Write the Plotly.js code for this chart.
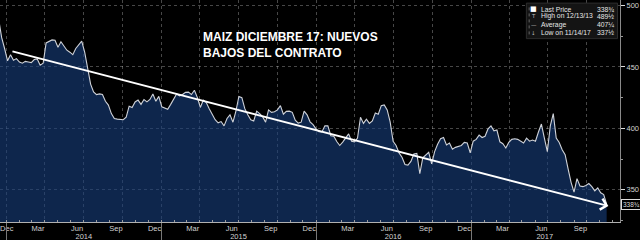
<!DOCTYPE html>
<html><head><meta charset="utf-8">
<script src="https://cdn.plot.ly/plotly-3.0.1.min.js"></script>
<style>html,body{margin:0;padding:0;background:#000;}#chart{width:640px;height:240px;}</style>
</head><body><div id="chart"></div>
<script>
// Weekly closes of the Dec-2017 corn contract (cents/bu)
const weeks2014 = ["2013-12-13","2013-12-20","2013-12-27",
"2014-01-03","2014-01-10","2014-01-17","2014-01-24","2014-01-31","2014-02-07","2014-02-14","2014-02-21","2014-02-28","2014-03-07","2014-03-14","2014-03-21","2014-03-28","2014-04-04","2014-04-11","2014-04-18","2014-04-25","2014-05-02","2014-05-09","2014-05-16","2014-05-23","2014-05-30","2014-06-06","2014-06-13","2014-06-20","2014-06-27","2014-07-04","2014-07-11","2014-07-18","2014-07-25","2014-08-01","2014-08-08","2014-08-15","2014-08-22","2014-08-29","2014-09-05","2014-09-12","2014-09-19","2014-09-26","2014-10-03","2014-10-10","2014-10-17","2014-10-24","2014-10-31","2014-11-07","2014-11-14","2014-11-21","2014-11-28","2014-12-05","2014-12-12","2014-12-19","2014-12-26"];
const price2014 = [489,474,465,
455,460,455.5,456.8,454, 453,454.5,454,453.5, 456,456.5,451.4,453, 469.5,470.5,472,471.7, 466,470.5,467,463.6,462, 460,465,468.5,471, 462,449,436,429.7, 427.5,428,427.5,422,418.9, 412,408,407.5,407.5, 407,409,418,417,421.5, 423,419.5,423.5,421.5, 423.5,428,422,426];

const weeks2015 = ["2015-01-02","2015-01-09","2015-01-16","2015-01-23","2015-01-30","2015-02-06","2015-02-13","2015-02-20","2015-02-27","2015-03-06","2015-03-13","2015-03-20","2015-03-27","2015-04-03","2015-04-10","2015-04-17","2015-04-24","2015-05-01","2015-05-08","2015-05-15","2015-05-22","2015-05-29","2015-06-05","2015-06-12","2015-06-19","2015-06-26","2015-07-03","2015-07-10","2015-07-17","2015-07-24","2015-07-31","2015-08-07","2015-08-14","2015-08-21","2015-08-28","2015-09-04","2015-09-11","2015-09-18","2015-09-25","2015-10-02","2015-10-09","2015-10-16","2015-10-23","2015-10-30","2015-11-06","2015-11-13","2015-11-20","2015-11-27","2015-12-04","2015-12-11","2015-12-18","2015-12-25"];
const price2015 = [417.5,416.5,415.5,419.5,423.5, 428,426.5,427.5,429.3, 429.5,427.5,431,425, 417,423,421,416, 411.5,407,404.5,405.5,402, 408,411,405,414, 426,425,416,411,407, 406,414,412,409.5, 405,415,413,413.5, 415,418.5,411.5,413.8,414, 413,406.6,404.3,405, 414,411,405.3,403];

const weeks2016 = ["2016-01-01","2016-01-08","2016-01-15","2016-01-22","2016-01-29","2016-02-05","2016-02-12","2016-02-19","2016-02-26","2016-03-04","2016-03-11","2016-03-18","2016-03-25","2016-04-01","2016-04-08","2016-04-15","2016-04-22","2016-04-29","2016-05-06","2016-05-13","2016-05-20","2016-05-27","2016-06-03","2016-06-10","2016-06-17","2016-06-24","2016-07-01","2016-07-08","2016-07-15","2016-07-22","2016-07-29","2016-08-05","2016-08-12","2016-08-19","2016-08-26","2016-09-02","2016-09-09","2016-09-16","2016-09-23","2016-09-30","2016-10-07","2016-10-14","2016-10-21","2016-10-28","2016-11-04","2016-11-11","2016-11-18","2016-11-25","2016-12-02","2016-12-09","2016-12-16","2016-12-23","2016-12-30"];
const price2016 = [399.5,397.3,397,402,402, 394,393.5,389.2,386, 388.8,392.5,395.5,389.5, 389,392,409,404,407.5, 404,406,412.5,411.5, 418.5,419,415,405.3, 389.5,386,380,376.5,370.5, 370,373,379,379.5, 363,376,378,380.5,371, 381,387,391.5,392.5, 386.5,388,383,384.5, 385,386,388.5,388,380];

const weeks2017 = ["2017-01-06","2017-01-13","2017-01-20","2017-01-27","2017-02-03","2017-02-10","2017-02-17","2017-02-24","2017-03-03","2017-03-10","2017-03-17","2017-03-24","2017-03-31","2017-04-07","2017-04-14","2017-04-21","2017-04-28","2017-05-05","2017-05-12","2017-05-19","2017-05-26","2017-06-02","2017-06-09","2017-06-16","2017-06-23","2017-06-30","2017-07-07","2017-07-14","2017-07-21","2017-07-28","2017-08-04","2017-08-11","2017-08-18","2017-08-25","2017-09-01","2017-09-08","2017-09-15","2017-09-22","2017-09-29","2017-10-06","2017-10-13","2017-10-20","2017-10-27","2017-11-03","2017-11-10","2017-11-17"];
const price2017 = [389.5,391,394.5,392.5, 393.5,399.5,402,398, 398.6,389,387.5,384,388.5, 391,391.5,391,389.5, 388,392,389.5,390.5, 389.5,397,403.5,392,381, 402,412,392,388.5, 382.5,378.5,367,356, 348,359,353,352.5,353.5, 355,352.5,349,351.5, 347.5,346,338];

// Axis ticks / labels
const gridDates = ["2014-01-01","2014-04-01","2014-07-01","2014-10-01","2015-01-01","2015-04-01","2015-07-01","2015-10-01","2016-01-01","2016-04-01","2016-07-01","2016-10-01","2017-01-01","2017-04-01","2017-07-01","2017-10-01"];
const monthLabelDates = ["2014-01-01","2014-03-16","2014-06-16","2014-09-16","2014-12-16","2015-03-16","2015-06-16","2015-09-16","2015-12-16","2016-03-16","2016-06-16","2016-09-16","2016-12-16","2017-03-16","2017-06-16","2017-09-16"];
const monthLabels = ["Dec","Mar","Jun","Sep","Dec","Mar","Jun","Sep","Dec","Mar","Jun","Sep","Dec","Mar","Jun","Sep"];
const yearStarts = ["2014-01-01","2015-01-01","2016-01-01","2017-01-01"];
const yearLabelDates = ["2014-07-02","2015-07-02","2016-07-01","2017-06-24"];
const yearLabels = ["2014","2015","2016","2017"];
const yTicks = [350,400,450,500];

// Trend arrow (start, end)
const trendDates = ["2014-01-11","2017-11-21"];
const trendValues = [463, 336.7];

// Legend box content
const legendIcons = ["■","T","—","↓"];
const legendLabels = ["Last Price","High on 12/13/13","Average","Low on 11/14/17"];
const legendValues = ["338¾","489½","407¼","337½"];
const lastPriceText = "338¾";

const weeks = weeks2014.concat(weeks2015, weeks2016, weeks2017);
const prices = price2014.concat(price2015, price2016, price2017);

const xRange = ["2013-12-16 04:00","2017-12-18 12:00"];
const labelFont = {family: "Liberation Sans, Arial, sans-serif", size: 7.5, color: "#d2d2d2"};
const legendFont = {family: "Liberation Sans, Arial, sans-serif", size: 6.8, color: "#e6e6e6"};

const trace = {
  x: weeks, y: prices, type: "scatter", mode: "lines",
  line: {color: "#cfd2d8", width: 1.1},
  fill: "tozeroy", fillcolor: "rgba(22,62,122,0.62)",
  hoverinfo: "skip"
};

const legendRowY = [0.958, 0.9257, 0.8896, 0.8536];
const annotations = [];
annotations.push({
  xref: "paper", yref: "paper", x: 0.3245, y: 0.7995, xanchor: "left", yanchor: "middle", align: "left",
  showarrow: false, text: "<b>MAIZ DICIEMBRE 17: NUEVOS<br>BAJOS DEL CONTRATO</b>",
  font: {family: "Liberation Sans, Arial, sans-serif", size: 12, color: "#ffffff"}
});
annotations.push({
  xref: "x", yref: "y", axref: "x", ayref: "y",
  x: trendDates[1], y: trendValues[1], ax: trendDates[0], ay: trendValues[0],
  showarrow: true, arrowhead: 4, arrowsize: 1.1, arrowwidth: 2, arrowcolor: "#ffffff", standoff: 0, text: ""
});
for (let i = 0; i < legendLabels.length; i++) {
  annotations.push({xref: "paper", yref: "paper", x: 0.8605, y: legendRowY[i], xanchor: "center", yanchor: "middle",
    showarrow: false, text: legendIcons[i], borderpad: 0,
    font: {family: "DejaVu Sans, sans-serif", size: i === 0 ? 7 : 5.5, color: i === 0 ? "#ffffff" : "#bbbbbb"}});
  annotations.push({xref: "paper", yref: "paper", x: 0.8705, y: legendRowY[i], xanchor: "left", yanchor: "middle",
    showarrow: false, text: legendLabels[i], borderpad: 0, font: legendFont});
  annotations.push({xref: "paper", yref: "paper", x: 0.9915, y: legendRowY[i], xanchor: "right", yanchor: "middle",
    showarrow: false, text: legendValues[i], borderpad: 0, font: legendFont});
}
annotations.push({
  xref: "paper", yref: "y", x: 1.002, y: prices[prices.length - 1], xanchor: "left", yanchor: "middle",
  showarrow: false, text: lastPriceText, bgcolor: "#000", bordercolor: "#dddddd", borderwidth: 1, borderpad: 1,
  font: {family: "Liberation Sans, Arial, sans-serif", size: 6.5, color: "#dddddd"}
});

const layout = {
  width: 640, height: 240,
  margin: {l: 0, r: 20, t: 0, b: 18, pad: 0},
  paper_bgcolor: "#000", plot_bgcolor: "#000",
  showlegend: false,
  xaxis: {
    type: "date", range: xRange, tickmode: "array", tickvals: gridDates,
    showticklabels: false, ticks: "",
    showgrid: true, gridcolor: "rgba(255,255,255,0.28)", griddash: "dot", gridwidth: 1,
    showline: true, linecolor: "#b0b0b0", linewidth: 1, zeroline: false,
    minor: {dtick: "M1", tick0: "2014-01-01", ticks: "inside", ticklen: 2, tickcolor: "#9a9a9a", showgrid: false}
  },
  xaxis2: {
    type: "date", range: xRange, overlaying: "x", anchor: "y", side: "bottom",
    tickmode: "array", tickvals: monthLabelDates, ticktext: monthLabels,
    ticks: "", showgrid: false, showline: false, zeroline: false, tickfont: labelFont
  },
  xaxis3: {
    type: "date", range: xRange, overlaying: "x", anchor: "y", side: "bottom",
    tickmode: "array", tickvals: yearStarts, showticklabels: false,
    ticks: "outside", ticklen: 18, tickwidth: 1, tickcolor: "#777777",
    showgrid: false, showline: false, zeroline: false
  },
  xaxis4: {
    type: "date", range: xRange, overlaying: "x", anchor: "y", side: "bottom",
    tickmode: "array", tickvals: yearLabelDates, ticktext: yearLabels,
    ticks: "", ticklabelstandoff: 8, showgrid: false, showline: false, zeroline: false, tickfont: labelFont
  },
  yaxis: {
    side: "right", range: [323.7, 504.5], tickmode: "array", tickvals: yTicks,
    ticks: "outside", ticklen: 4, tickcolor: "#dddddd", tickwidth: 1,
    tickfont: labelFont,
    showgrid: true, gridcolor: "rgba(255,255,255,0.28)", griddash: "dot", gridwidth: 1,
    showline: true, linecolor: "#8a8a8a", linewidth: 1, zeroline: false,
    minor: {dtick: 25, tick0: 0, ticks: "outside", ticklen: 2, tickcolor: "#999999", showgrid: false}
  },
  shapes: [
    {type: "rect", xref: "paper", yref: "paper", x0: 0.849, x1: 0.996, y0: 0.826, y1: 0.986,
     fillcolor: "#141414", line: {color: "#2c2c2c", width: 1}, layer: "above"},
    {type: "line", xref: "paper", yref: "paper", x0: 0.8535, x1: 0.8535, y0: 0.845, y1: 0.972,
     line: {color: "#666666", width: 1, dash: "dot"}, layer: "above"}
  ],
  annotations: annotations
};

const extra = [
  {x: [], y: [], xaxis: "x2", yaxis: "y", type: "scatter", hoverinfo: "skip"},
  {x: [], y: [], xaxis: "x3", yaxis: "y", type: "scatter", hoverinfo: "skip"},
  {x: [], y: [], xaxis: "x4", yaxis: "y", type: "scatter", hoverinfo: "skip"}
];

Plotly.newPlot("chart", [trace].concat(extra), layout, {staticPlot: true, displayModeBar: false});
</script>
</body></html>
